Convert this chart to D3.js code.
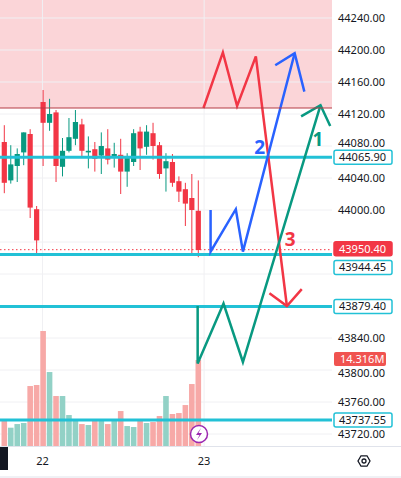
<!DOCTYPE html>
<html><head><meta charset="utf-8">
<script src="https://cdn.jsdelivr.net/npm/d3@7"></script>
<style>body{margin:0;background:#fff}svg{display:block;font-family:"Noto Sans",Roboto,sans-serif}</style>
</head><body><svg id="c" width="401" height="478"></svg>
<script>
const opens  = [44085,44037,44055,44072,44095,44001,44135,44109,44122,44054,44074,44089,44107,44072,44076,44068,44077,44065,44069,44048,44060,44098,44079,44096,44081,44052,44060,44036,44026,44015,43999];
const closes = [44034,44057,44070,44097,44003,43962,44109,44120,44055,44074,44091,44110,44074,44074,44064,44080,44063,44070,44048,44066,44096,44077,44098,44080,44045,44061,44034,44023,44008,44000,43950];
const highs  = [44106,44081,44077,44097,44101,44005,44150,44139,44125,44090,44115,44125,44114,44092,44085,44097,44101,44084,44089,44071,44101,44104,44106,44109,44085,44071,44070,44042,44034,44045,44037];
const lows   = [44021,44033,44035,44056,43990,43944,44055,44099,44035,44042,44072,44081,44067,44052,44048,44045,44057,44053,44020,44029,44055,44050,44069,44063,44039,44023,44029,44010,43980,43945,43941];
const volumes= [4.40,3.14,3.74,3.91,10.02,10.19,19.11,12.33,8.37,8.37,5.23,4.57,3.74,3.58,4.40,4.24,3.74,4.24,5.89,3.41,3.25,4.40,3.91,4.07,5.07,8.37,5.40,5.56,6.88,10.35,14.32];
const priceTicks = [44240,44200,44160,44120,44080,44040,44000,43840,43800,43760,43720];
const gridTicks = [44240,44200,44160,44120,44080,44040,44000,43960,43920,43880,43840,43800,43760,43720];
const dateTicks = [{i:5.9,label:"22"},{i:30.9,label:"23"}];
const levels = [44065.90,43944.45,43879.40,43737.55];
const zoneLow = 44127.5;
const lastPrice = 43950.40;
const lastVol = "14.316M";
const redPath = [[30.8,44127.5],[33.8,44197],[36,44130],[38.9,44192],[43.7,43880]];
const redHead = [[41,43896],[43.7,43880],[46,43901]];
const bluePath = [[31.9,44000],[31.9,43948],[35.8,44001],[36.9,43948],[44.9,44196]];
const blueHead = [[41.9,44181],[44.9,44196],[46.4,44148]];
const greenPath = [[29.9,43880],[29.9,43808],[33.9,43883],[36.9,43810],[48.9,44131]];
const greenHead = [[45.9,44117],[48.9,44131],[50.4,44105]];

const svg = d3.select("#c");
const W=332;
const x = d3.scaleLinear().domain([0,30]).range([4.3,198.3]);
const y = d3.scaleLinear().domain([43720,44240]).range([434,18]);
const v = d3.scaleLinear().domain([0,14.32]).range([446.7,360]);

svg.append("defs").append("clipPath").attr("id","pc").append("rect").attr("width",W).attr("height",446);
const g = svg.append("g").attr("clip-path","url(#pc)");

g.append("rect").attr("x",0).attr("y",0).attr("width",W).attr("height",y(zoneLow)).attr("fill","#fbd5d8");
g.selectAll(".hg").data(gridTicks).join("line").attr("x1",0).attr("x2",W).attr("y1",d=>y(d)).attr("y2",d=>y(d)).attr("stroke","#f0f0f3");
g.selectAll(".vg").data(dateTicks).join("line").attr("x1",d=>x(d.i)).attr("x2",d=>x(d.i)).attr("y1",0).attr("y2",446).attr("stroke","#f0f0f3");
svg.append("line").attr("x1",0).attr("x2",W).attr("y1",y(zoneLow)).attr("y2",y(zoneLow)).attr("stroke","#b43a45").attr("stroke-width",1);

const up = (i)=>closes[i]>=opens[i];
g.selectAll(".vol").data(volumes).join("rect").attr("x",(d,i)=>x(i)-2.8).attr("width",5.6)
 .attr("y",d=>v(d)).attr("height",d=>v(0)-v(d)).attr("fill",(d,i)=>up(i)?"#92d1c6":"#f7a9a7");
g.selectAll(".wick").data(highs).join("line").attr("x1",(d,i)=>x(i)).attr("x2",(d,i)=>x(i))
 .attr("y1",d=>y(d)).attr("y2",(d,i)=>y(lows[i])).attr("stroke",(d,i)=>up(i)?"#089981":"#f23645");
g.selectAll(".body").data(opens).join("rect").attr("x",(d,i)=>x(i)-2.6).attr("width",5.2)
 .attr("y",(d,i)=>y(Math.max(d,closes[i]))).attr("height",(d,i)=>Math.max(1.5,Math.abs(y(d)-y(closes[i]))))
 .attr("fill",(d,i)=>up(i)?"#089981":"#f23645");

g.append("line").attr("x1",0).attr("x2",W).attr("y1",y(lastPrice)).attr("y2",y(lastPrice)).attr("stroke","#f23645").attr("stroke-dasharray","1.5,2.5");
g.selectAll(".lvl").data(levels).join("line").attr("x1",0).attr("x2",W).attr("y1",d=>y(d)).attr("y2",d=>y(d)).attr("stroke","#22c1d6").attr("stroke-width",3);

const ln = d3.line().x(d=>x(d[0])).y(d=>y(d[1]));
[[redPath,redHead,"#f23645"],[bluePath,blueHead,"#2962ff"],[greenPath,greenHead,"#089981"]].forEach(([p,h,c])=>{
  g.append("path").attr("d",ln(p)).attr("fill","none").attr("stroke",c).attr("stroke-width",2.5);
  g.append("path").attr("d",ln(h)).attr("fill","none").attr("stroke",c).attr("stroke-width",2.5);
});
const nums=[["1",48.5,44080,"#089981"],["2",39.5,44070,"#2962ff"],["3",44.2,43955,"#f23645"]];
svg.selectAll(".num").data(nums).join("text").attr("x",d=>x(d[1])).attr("y",d=>y(d[2])).attr("text-anchor","middle")
 .attr("font-size",19).attr("font-weight","bold").attr("fill",d=>d[3]).text(d=>d[0]);

svg.append("circle").attr("cx",199).attr("cy",434).attr("r",8.5).attr("fill","#fff").attr("stroke","#9c27b0").attr("stroke-width",1.5);
svg.append("path").attr("d","M201,428 L196,435 L199.5,435 L197,440 L202,433 L198.5,433 Z").attr("fill","#9c27b0");

const ax = svg.append("g").attr("transform",`translate(${W},0)`).call(d3.axisRight(y).tickValues(priceTicks).tickSize(0).tickPadding(6).tickFormat(d3.format(".2f")));
ax.select(".domain").remove();
ax.selectAll("text").attr("font-size",11).attr("fill","#131722").attr("font-family","Noto Sans, sans-serif");
ax.selectAll(".tick").filter(d=>d===44080).attr("transform",`translate(0,${y(44080)-3})`);
ax.selectAll(".tick").filter(d=>d===43800).attr("transform",`translate(0,${y(43800)+3})`);

const labels=[{v:levels[0],dy:0,t:"44065.90",bg:"#fff",bd:"#22c1d6",fg:"#131722"},
 {v:lastPrice,dy:-1,t:"43950.40",bg:"#f23645",bd:"#f23645",fg:"#fff"},
 {v:levels[1],dy:13,t:"43944.45",bg:"#fff",bd:"#22c1d6",fg:"#131722"},
 {v:levels[2],dy:0,t:"43879.40",bg:"#fff",bd:"#22c1d6",fg:"#131722"},
 {v:levels[3],dy:0,t:"43737.55",bg:"#fff",bd:"#22c1d6",fg:"#131722"}];
const lg = svg.selectAll(".lb").data(labels).join("g").attr("transform",d=>`translate(${W+2},${y(d.v)+d.dy})`);
lg.append("rect").attr("x",0).attr("y",-7).attr("width",58).attr("height",14).attr("rx",2).attr("fill",d=>d.bg).attr("stroke",d=>d.bd).attr("stroke-width",1.5);
lg.append("text").attr("x",5).attr("y",4).attr("font-size",11).attr("fill",d=>d.fg).text(d=>d.t);
const vl = svg.append("g").attr("transform",`translate(${W+2},${v(volumes[30])-1})`);
vl.append("rect").attr("y",-7).attr("width",52).attr("height",14).attr("rx",2).attr("fill","#f05350");
vl.append("text").attr("x",6).attr("y",4).attr("font-size",11).attr("fill","#fff").text(lastVol);

svg.append("line").attr("x1",0).attr("x2",401).attr("y1",446.5).attr("y2",446.5).attr("stroke","#e0e3eb");
svg.selectAll(".dt").data(dateTicks).join("text").attr("x",d=>x(d.i)).attr("y",465).attr("text-anchor","middle").attr("font-size",11).attr("fill","#131722").text(d=>d.label);
svg.append("rect").attr("x",0).attr("y",447).attr("width",8).attr("height",23).attr("fill","#131722");
const gear = svg.append("g").attr("transform","translate(364,461)");
gear.append("path").attr("d",d3.range(6).map(k=>{const a=k*Math.PI/3;return (k?"L":"M")+(6*Math.cos(a)).toFixed(2)+","+(6*Math.sin(a)).toFixed(2)}).join("")+"Z").attr("fill","none").attr("stroke","#131722").attr("stroke-width",1.3);
gear.append("circle").attr("r",2).attr("fill","none").attr("stroke","#131722").attr("stroke-width",1.3);
svg.append("line").attr("x1",0).attr("x2",401).attr("y1",477).attr("y2",477).attr("stroke","#e0e3eb");
</script></body></html>
